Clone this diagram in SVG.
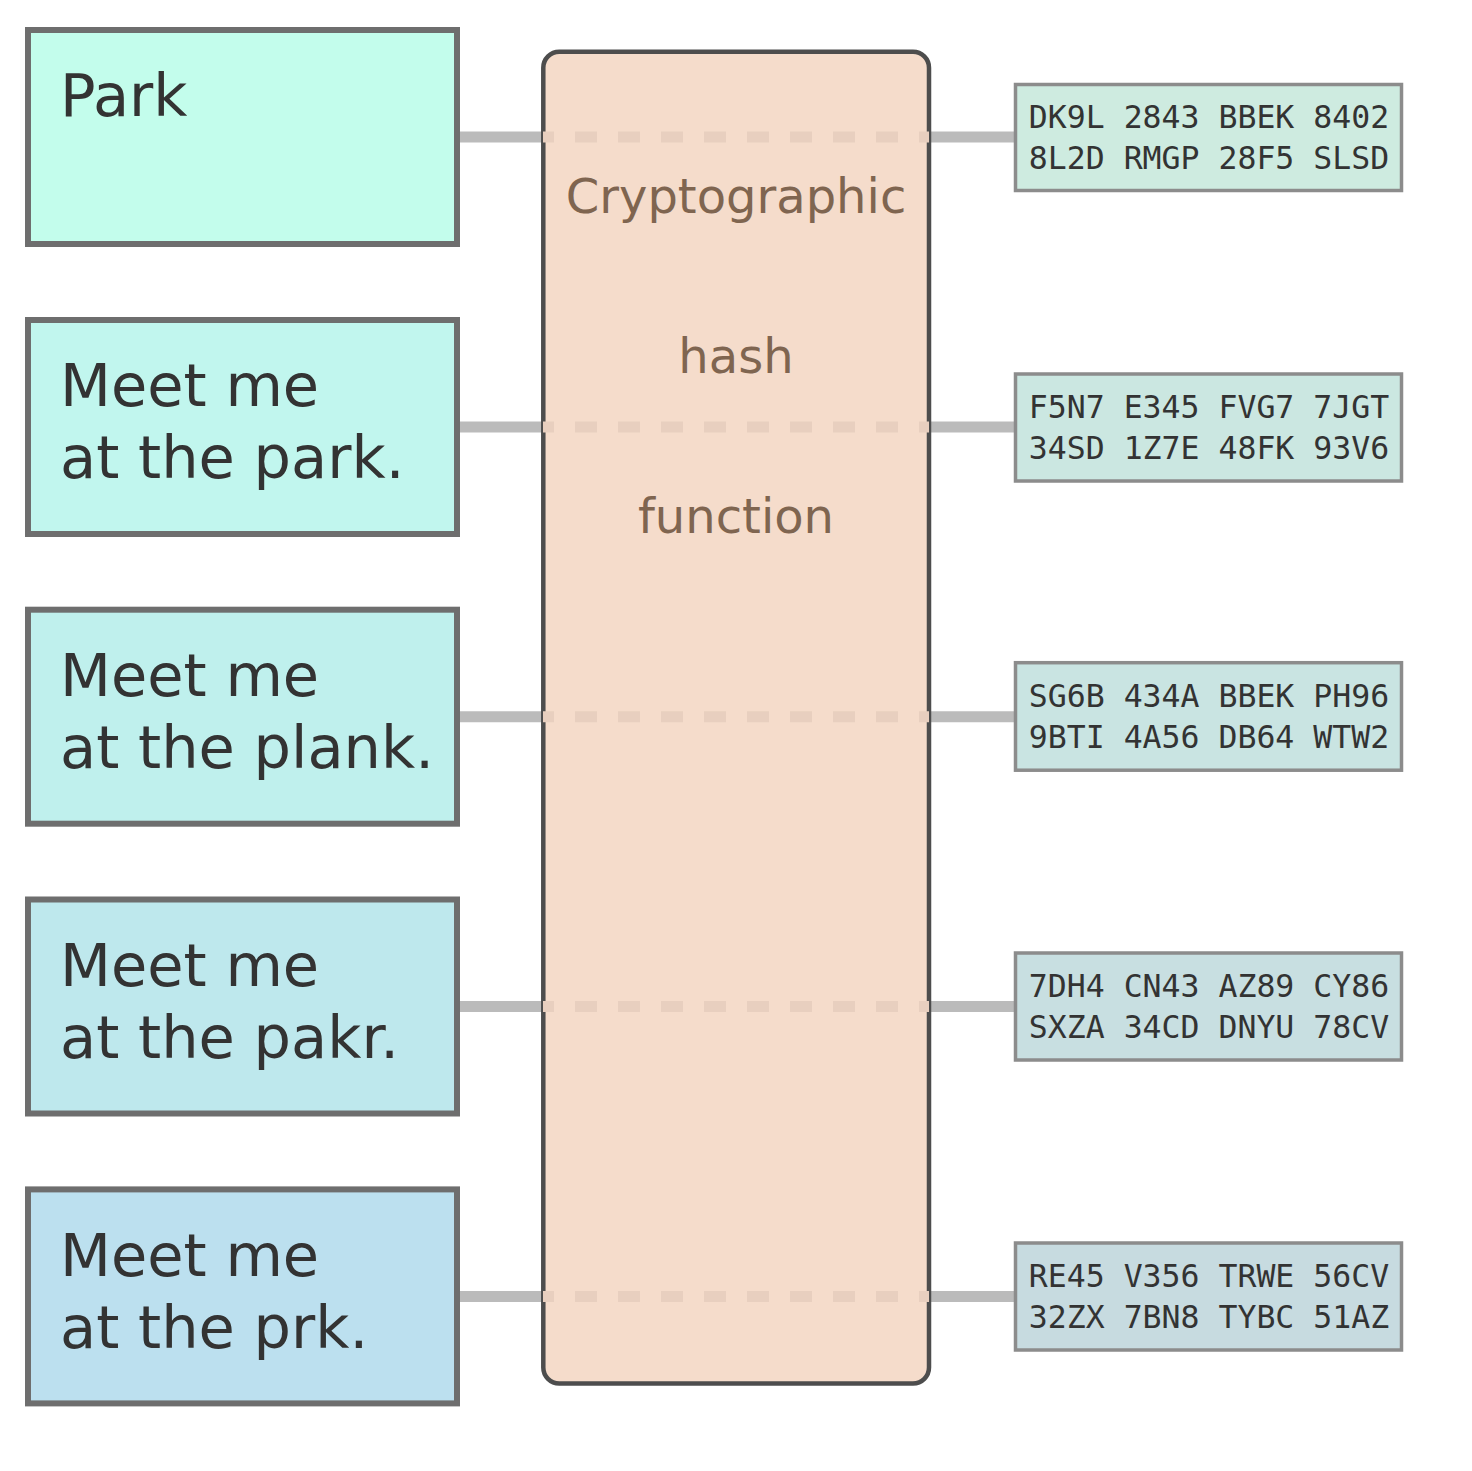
<svg xmlns="http://www.w3.org/2000/svg" width="1472" height="1471" viewBox="0 0 1472 1471">
<style>
.msg rect{stroke:#6e6e6e;stroke-width:6}
.msg text{font-family:"DejaVu Sans",sans-serif;font-size:59px;fill:#333333}
.hash rect{fill:#f5dccb;stroke:#4d4d4d;stroke-width:4.5}
.hash text{font-family:"DejaVu Sans",sans-serif;font-size:48px;fill:#7f6550;text-anchor:middle}
.dig rect{stroke:#8c8c8c;stroke-width:3.5}
.dig text{font-family:"DejaVu Sans Mono",monospace;font-size:31.5px;fill:#333333;text-anchor:middle}
.conn line{stroke:#bbbbbb;stroke-width:11}
.inner line{stroke:#e8cfbf;stroke-width:11;stroke-dasharray:22 21;stroke-dashoffset:11}
</style>
<rect width="1472" height="1471" fill="#ffffff"/>
<g id="connectors" class="conn">
<line x1="457" y1="137" x2="1016" y2="137"/>
<line x1="457" y1="427" x2="1016" y2="427"/>
<line x1="457" y1="716.7" x2="1016" y2="716.7"/>
<line x1="457" y1="1006.5" x2="1016" y2="1006.5"/>
<line x1="457" y1="1296.4" x2="1016" y2="1296.4"/>
</g>
<g id="hash-function" class="hash">
<rect x="543.3" y="51.7" width="385.7" height="1331.8" rx="16"/>
<text x="736" y="213">Cryptographic</text>
<text x="736" y="373">hash</text>
<text x="736" y="533">function</text>
</g>
<g id="connectors-inside" class="inner">
<line x1="543" y1="137" x2="929" y2="137"/>
<line x1="543" y1="427" x2="929" y2="427"/>
<line x1="543" y1="716.7" x2="929" y2="716.7"/>
<line x1="543" y1="1006.5" x2="929" y2="1006.5"/>
<line x1="543" y1="1296.4" x2="929" y2="1296.4"/>
</g>
<g id="msg1" class="msg">
<rect x="28" y="30" width="429" height="214" fill="#c3fdec"/>
<text x="60" y="116">Park</text>
</g>
<g id="msg2" class="msg">
<rect x="28" y="320" width="429" height="214" fill="#c1f6ee"/>
<text x="60" y="406">Meet me</text>
<text x="60" y="478">at the park.</text>
</g>
<g id="msg3" class="msg">
<rect x="28" y="609.7" width="429" height="214" fill="#bff0ed"/>
<text x="60" y="696">Meet me</text>
<text x="60" y="768">at the plank.</text>
</g>
<g id="msg4" class="msg">
<rect x="28" y="899.5" width="429" height="214" fill="#bee8ed"/>
<text x="60" y="986">Meet me</text>
<text x="60" y="1058">at the pakr.</text>
</g>
<g id="msg5" class="msg">
<rect x="28" y="1189.4" width="429" height="214" fill="#bce0ef"/>
<text x="60" y="1276">Meet me</text>
<text x="60" y="1348">at the prk.</text>
</g>
<g id="digest1" class="dig">
<rect x="1015.5" y="84.5" width="386" height="106" fill="#ceebe0"/>
<text x="1209" y="128.3">DK9L 2843 BBEK 8402</text>
<text x="1209" y="169.3">8L2D RMGP 28F5 SLSD</text>
</g>
<g id="digest2" class="dig">
<rect x="1015.5" y="374" width="386" height="107" fill="#cbe7e1"/>
<text x="1209" y="418.3">F5N7 E345 FVG7 7JGT</text>
<text x="1209" y="459.3">34SD 1Z7E 48FK 93V6</text>
</g>
<g id="digest3" class="dig">
<rect x="1015.5" y="662.7" width="386" height="107.5" fill="#c9e4e2"/>
<text x="1209" y="707.3">SG6B 434A BBEK PH96</text>
<text x="1209" y="748.3">9BTI 4A56 DB64 WTW2</text>
</g>
<g id="digest4" class="dig">
<rect x="1015.5" y="953" width="386" height="107" fill="#c8dfe1"/>
<text x="1209" y="997.3">7DH4 CN43 AZ89 CY86</text>
<text x="1209" y="1038.3">SXZA 34CD DNYU 78CV</text>
</g>
<g id="digest5" class="dig">
<rect x="1015.5" y="1243" width="386" height="107" fill="#c7dbe0"/>
<text x="1209" y="1287.3">RE45 V356 TRWE 56CV</text>
<text x="1209" y="1328.3">32ZX 7BN8 TYBC 51AZ</text>
</g>
</svg>
